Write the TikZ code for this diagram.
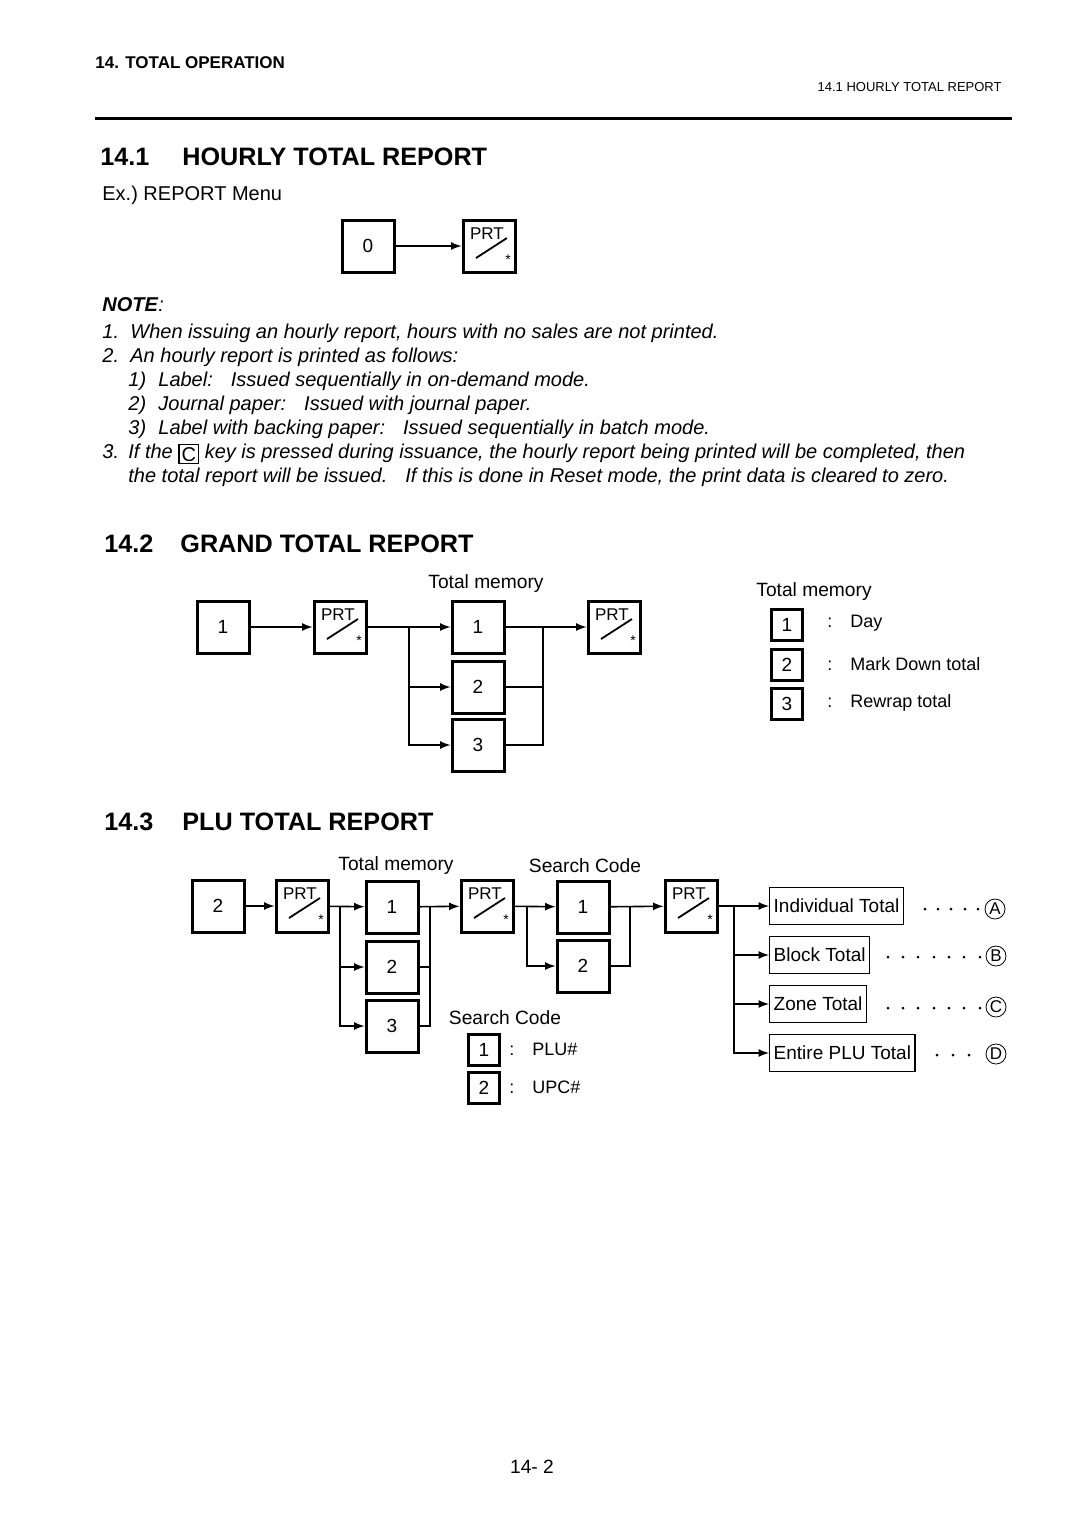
\documentclass[tikz,border=0pt]{standalone}
\usepackage{fontspec}
\setmainfont{Liberation Sans}
\newfontfamily\keyserif{Liberation Serif}
\usepackage{tikz}
\usetikzlibrary{arrows,positioning,calc}

% PRT key face: label, slash and star inside a key node
\newcommand{\prtmarks}[1]{%
  \node[prtlabel] (#1-lbl) at ([shift={(-2,-12)}]#1.center) {PRT};
  \draw[line width=0.9pt] ([shift={(-13,12)}]#1.center) -- ([shift={(18,-8)}]#1.center);
  \node[prtstar] (#1-star) at ([shift={(19,14)}]#1.center) {*};
}
% small C key inside the note text
\newcommand{\ckey}{\raisebox{-1.5pt}{\setlength{\fboxsep}{1pt}\setlength{\fboxrule}{0.6pt}\fbox{\keyserif\normalfont\upshape C}}}

\begin{document}
\begin{tikzpicture}[
    x=0.5pt, y=-0.5pt,
    key/.style={draw, line width=1.5pt, minimum size=26pt, inner sep=0pt, font=\fontsize{9.5}{11}\selectfont},
    smallkey/.style={draw, line width=1.4pt, minimum size=15.5pt, inner sep=0pt, font=\fontsize{9.5}{11}\selectfont},
    prtlabel/.style={inner sep=0pt, font=\fontsize{8.5}{10}\selectfont},
    prtstar/.style={inner sep=0pt, font=\fontsize{7}{8}\selectfont},
    result/.style={draw, line width=0.7pt, minimum height=18.5pt, inner xsep=2pt, inner ysep=0pt, anchor=west, font=\fontsize{9.5}{11}\selectfont},
    txt/.style={inner sep=0pt, anchor=base west, font=\fontsize{10}{12}\selectfont},
    note/.style={txt, font=\fontsize{10}{12}\selectfont\itshape},
    caption/.style={inner sep=0pt, font=\fontsize{9.6}{11}\selectfont},
    legend/.style={inner sep=0pt, anchor=west, font=\fontsize{9}{11}\selectfont},
    heading/.style={inner sep=0pt, anchor=base west, font=\fontsize{12.6}{15}\selectfont\bfseries},
    letter/.style={draw, circle, line width=0.4pt, minimum size=10pt, inner sep=0pt, font=\fontsize{8.5}{9}\selectfont},
    arrow/.style={->, >=latex, line width=0.8pt},
    link/.style={line width=0.8pt}
]
    \useasboundingbox (0,0) rectangle (1080,1528);

    % Page header
    \node[inner sep=0pt, anchor=base west, font=\fontsize{8.5}{10}\selectfont\bfseries] (chap) at (95,68) {14. TOTAL OPERATION};
    \node[inner sep=0pt, anchor=base east, font=\fontsize{6.5}{8}\selectfont] (sect) at (1002,91) {14.1 HOURLY TOTAL REPORT};
    \coordinate (ruleL) at (95,118);
    \coordinate (ruleR) at (1012,118);
    \draw[line width=1.5pt] (ruleL) -- (ruleR);

    % 14.1 Hourly total report
    \node[heading] (h1num) at (100,165) {14.1};
    \node[heading] (h1) at (182,165) {HOURLY TOTAL REPORT};
    \node[txt] (exmenu) at (102,200) {Ex.)\ REPORT Menu};
    \node[key] (hkey0) at (368,246) {0};
    \node[key] (hprt) at (489,246) {};
    \prtmarks{hprt}
    \draw[arrow] (hkey0) -- (hprt);

    % Notes
    \node[txt] (notehd) at (102,311) {\textbf{\itshape NOTE}\textit{:}};
    \node[note] (n1) at (102,338) {\makebox[14pt][l]{1.}When issuing an hourly report, hours with no sales are not printed.};
    \node[note] (n2) at (102,362) {\makebox[14pt][l]{2.}An hourly report is printed as follows:};
    \node[note] (n2a) at (128,386) {\makebox[15pt][l]{1)}Label:\hspace{9pt}Issued sequentially in on-demand mode.};
    \node[note] (n2b) at (128,410) {\makebox[15pt][l]{2)}Journal paper:\hspace{9pt}Issued with journal paper.};
    \node[note] (n2c) at (128,434) {\makebox[15pt][l]{3)}Label with backing paper:\hspace{9pt}Issued sequentially in batch mode.};
    \node[note] (n3) at (102,458) {\makebox[13pt][l]{3.}If the \ckey{} key is pressed during issuance, the hourly report being printed will be completed, then};
    \node[note] (n3b) at (128,482) {the total report will be issued.\hspace{9pt}If this is done in Reset mode, the print data is cleared to zero.};

    % 14.2 Grand total report
    \node[heading] (h2num) at (104,552) {14.2};
    \node[heading] (h2) at (180,552) {GRAND TOTAL REPORT};
    \node[key] (gkey1) at (223,627) {1};
    \node[key] (gprtA) at (340,627) {};
    \prtmarks{gprtA}
    \node[key] (gmem1) at (478,627) {1};
    \node[key] (gmem2) at (478,687) {2};
    \node[key] (gmem3) at (478,745) {3};
    \node[key] (gprtB) at (614,627) {};
    \prtmarks{gprtB}
    \node[caption] (gmemcap) at (486,584) {Total memory};
    \coordinate (gsplit) at (409,627);
    \coordinate (gjoin) at (543,627);
    \draw[arrow] (gkey1) -- (gprtA);
    \draw[arrow] (gprtA) -- (gmem1);
    \draw[arrow] (gsplit) |- (gmem2);
    \draw[arrow] (gsplit) |- (gmem3);
    \draw[arrow] (gmem1) -- (gprtB);
    \draw[link] (gmem2) -| (gjoin);
    \draw[link] (gmem3) -| (gjoin);

    % Total memory legend
    \node[caption, anchor=base west] (glegcap) at (756,596) {Total memory};
    \node[smallkey] (gleg1) at (787,625) {1};
    \node[smallkey] (gleg2) at (787,665) {2};
    \node[smallkey] (gleg3) at (787,704) {3};
    \node[legend] (gday) at (827,623) {:\hspace{9pt}Day};
    \node[legend] (gmark) at (827,664) {:\hspace{9pt}Mark Down total};
    \node[legend] (grewrap) at (827,703) {:\hspace{9pt}Rewrap total};

    % 14.3 PLU total report
    \node[heading] (h3num) at (104,830) {14.3};
    \node[heading] (h3) at (182,830) {PLU TOTAL REPORT};
    \node[key] (pkey2) at (218,906) {2};
    \node[key] (pprtA) at (302,906) {};
    \prtmarks{pprtA}
    \node[key] (pmem1) at (392,907) {1};
    \node[key] (pmem2) at (392,967) {2};
    \node[key] (pmem3) at (392,1026) {3};
    \node[key] (pprtB) at (487,906) {};
    \prtmarks{pprtB}
    \node[key] (pcode1) at (583,907) {1};
    \node[key] (pcode2) at (583,966) {2};
    \node[key] (pprtC) at (691,906) {};
    \prtmarks{pprtC}
    \node[caption] (pmemcap) at (396,866) {Total memory};
    \node[caption] (pcodecap) at (585,866) {Search Code};

    \coordinate (psplitA) at (340,906);
    \coordinate (pjoinA) at (430,906);
    \coordinate (psplitB) at (527,906);
    \coordinate (pjoinB) at (630,906);
    \coordinate (psplitC) at (734,906);
    \draw[arrow] (pkey2) -- (pprtA);
    \draw[arrow] (pprtA) -- (pmem1);
    \draw[arrow] (psplitA) |- (pmem2);
    \draw[arrow] (psplitA) |- (pmem3);
    \draw[arrow] (pmem1) -- (pprtB);
    \draw[link] (pmem2) -| (pjoinA);
    \draw[link] (pmem3) -| (pjoinA);
    \draw[arrow] (pprtB) -- (pcode1);
    \draw[arrow] (psplitB) |- (pcode2);
    \draw[arrow] (pcode1) -- (pprtC);
    \draw[link] (pcode2) -| (pjoinB);

    % Report kinds
    \node[result] (rind) at (769,906) {Individual Total};
    \node[result] (rblock) at (769,955) {Block Total};
    \node[result] (rzone) at (769,1004) {Zone Total};
    \node[result] (rplu) at (769,1053) {Entire PLU Total};
    \draw[arrow] (pprtC) -- (rind);
    \draw[arrow] (psplitC) |- (rblock);
    \draw[arrow] (psplitC) |- (rzone);
    \draw[arrow] (psplitC) |- (rplu);

    \node[letter] (ltA) at (995,909) {A};
    \node[letter] (ltB) at (996,956) {B};
    \node[letter] (ltC) at (996,1007) {C};
    \node[letter] (ltD) at (996,1054) {D};
    \foreach \dx in {925,938,951,965,978} \fill (\dx,909) circle (0.75pt);
    \foreach \dx in {888,903,918,934,949,964,980} {
        \fill (\dx,957) circle (0.75pt);
        \fill (\dx,1008) circle (0.75pt);
    }
    \foreach \dx in {937,953,969} \fill (\dx,1055) circle (0.75pt);

    % Search code legend
    \node[caption] (scodecap) at (505,1018) {Search Code};
    \node[smallkey] (sleg1) at (484,1050) {1};
    \node[smallkey] (sleg2) at (484,1088) {2};
    \node[legend] (splu) at (509,1049) {:\hspace{9pt}PLU\#};
    \node[legend] (supc) at (509,1087) {:\hspace{9pt}UPC\#};

    % Page number
    \node[caption] (pageno) at (532,1467) {14- 2};
\end{tikzpicture}
\end{document}
